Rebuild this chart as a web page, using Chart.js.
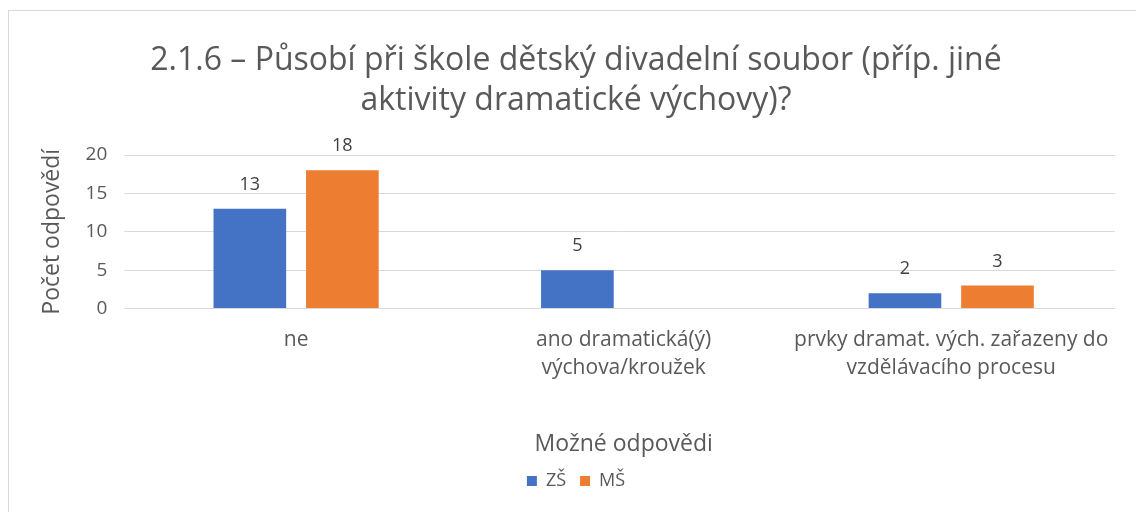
<!DOCTYPE html>
<html>
<head>
<meta charset="utf-8">
<script src="https://cdn.jsdelivr.net/npm/chart.js@4/dist/chart.umd.min.js"></script>
<style>
  html, body { margin: 0; padding: 0; background: #fff; }
  #wrap {
    position: absolute; left: 8px; top: 10px;
    width: 1128px; height: 502px;
    border-left: 1px solid #d9d9d9; border-top: 1px solid #d9d9d9;
  }
</style>
</head>
<body>
<div id="wrap"><canvas id="chart"></canvas></div>
<script>
// Excel-ish colours
// Blue: #4472C4, Orange: #ED7D31, Text: #595959

const categories = [
    ["ne"],
    ["ano dramatická(ý)", "výchova/kroužek"],
    ["prvky dramat. vých. zařazeny do", "vzdělávacího procesu"]
];
const zs = [13, 5, 2];
const ms = [18, null, 3];
const yTicks = [0, 5, 10, 15, 20];

const FONT = "'Open Sans', sans-serif";
const GRAY = "#595959";

// value labels above the bars
const barLabels = {
    id: "barLabels",
    afterDatasetsDraw(chart) {
        const ctx = chart.ctx;
        ctx.save();
        ctx.font = "18px " + FONT;
        ctx.fillStyle = "#404040";
        ctx.textAlign = "center";
        ctx.textBaseline = "bottom";
        chart.data.datasets.forEach((ds, i) => {
            chart.getDatasetMeta(i).data.forEach((bar, j) => {
                if (ds.data[j] == null) return;
                ctx.fillText(ds.data[j], bar.x, bar.y - 15);
            });
        });
        ctx.restore();
    }
};

const chart = new Chart(document.getElementById("chart"), {
    type: "bar",
    data: {
        labels: categories,
        datasets: [
            { label: "ZŠ", data: zs, backgroundColor: "#4472C4" },
            { label: "MŠ", data: ms, backgroundColor: "#ED7D31" }
        ]
    },
    options: {
        responsive: true,
        maintainAspectRatio: false,
        animation: false,
        categoryPercentage: 0.565,
        barPercentage: 0.785,
        layout: { padding: { left: 28, right: 22, top: 0, bottom: 13 } },
        plugins: {
            title: {
                display: true,
                text: ["2.1.6 – Působí při škole dětský divadelní soubor (příp. jiné",
                       "aktivity dramatické výchovy)?"],
                color: GRAY,
                font: { family: FONT, size: 32, weight: "normal", lineHeight: 1.25 },
                padding: { top: 30, bottom: 34 }
            },
            legend: {
                position: "bottom",
                labels: {
                    color: GRAY,
                    font: { family: FONT, size: 18 },
                    boxWidth: 10, boxHeight: 10,
                    padding: 14
                }
            },
            tooltip: { enabled: false }
        },
        scales: {
            x: {
                grid: { display: false },
                border: { display: false },
                ticks: { color: GRAY, font: { family: FONT, size: 21, lineHeight: 1.33 }, maxRotation: 0, padding: 10 },
                title: {
                    display: true,
                    text: "Možné odpovědi",
                    color: GRAY,
                    font: { family: FONT, size: 23 },
                    padding: { top: 38, bottom: 0 }
                }
            },
            y: {
                min: 0,
                max: 20,
                afterBuildTicks: axis => { axis.ticks = yTicks.map(v => ({ value: v })); },
                grid: { color: "#d9d9d9" },
                border: { display: false },
                ticks: { color: GRAY, font: { family: FONT, size: 19 }, padding: 17 },
                title: {
                    display: true,
                    text: "Počet odpovědí",
                    color: GRAY,
                    font: { family: FONT, size: 23 },
                    padding: 2
                }
            }
        }
    },
    plugins: [barLabels]
});
</script>
</body>
</html>
